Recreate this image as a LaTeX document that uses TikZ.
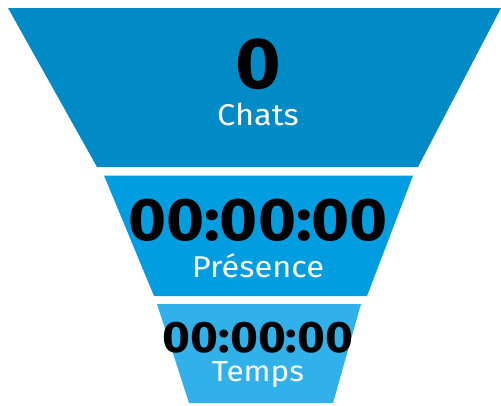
\documentclass[tikz,border=0pt]{standalone}
\usepackage{fontspec}
\setmainfont{Fira Sans}[FakeStretch=1.085]
\usetikzlibrary{positioning}
\definecolor{chatsblue}{HTML}{008AC6}
\definecolor{presblue}{HTML}{009DE0}
\definecolor{tempsblue}{HTML}{31B1E9}
\tikzset{x=1pt, y=-1pt,
  value/.style={inner sep=0pt, anchor=base, text=black, font=\bfseries},
  caption/.style={inner sep=0pt, anchor=base, text=white}}

\begin{document}
\begin{tikzpicture}
  \useasboundingbox (0,0) rectangle (501,405);

  % funnel parts
  \fill[chatsblue] (8,8) -- (501,8) -- (418,167) -- (97,167) -- cycle;
  \fill[presblue] (104,175.5) -- (413,175.5) -- (367,296) -- (154,296) -- cycle;
  \fill[tempsblue] (157,304) -- (361,304) -- (333,403) -- (189,403) -- cycle;

  \node (chats)  [value, font=\fontsize{72}{72}\selectfont\bfseries] at (258,88) {0};
  \node (chatsl) [caption, font=\fontsize{30}{30}\selectfont] at (258,125) {Chats};

  \node (pres)  [value, font=\fontsize{60}{60}\selectfont\bfseries] at (258,240) {00:00:00};
  \node (presl) [caption, font=\fontsize{30}{30}\selectfont] at (258,277) {Présence};

  \node (temps)  [value, font=\fontsize{44}{44}\selectfont\bfseries] at (258,352) {00:00:00};
  \node (tempsl) [caption, font=\fontsize{29}{29}\selectfont] at (258,381) {Temps};
\end{tikzpicture}
\end{document}
